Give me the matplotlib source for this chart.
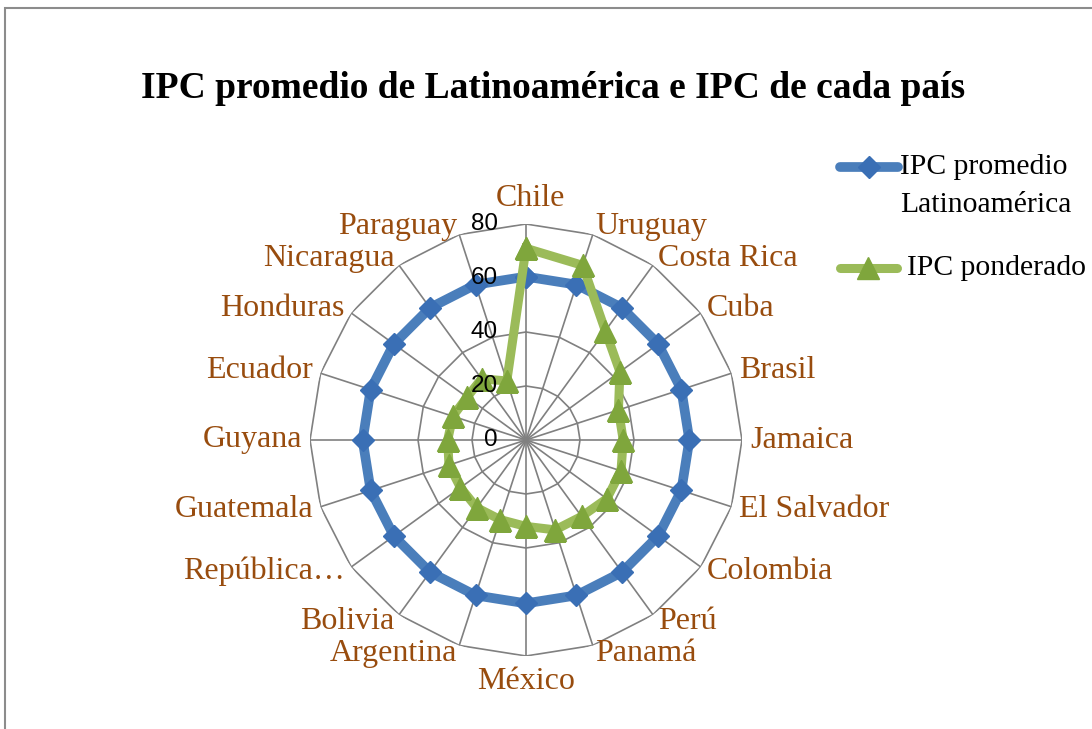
import numpy as np
import matplotlib
matplotlib.use("Agg")
import matplotlib.pyplot as plt
from matplotlib.lines import Line2D
from matplotlib.patches import Rectangle

# data
paises = ['Chile', 'Uruguay', 'Costa Rica', 'Cuba', 'Brasil', 'Jamaica',
          'El Salvador', 'Colombia', 'Perú', 'Panamá', 'México', 'Argentina',
          'Bolivia', 'República…', 'Guatemala', 'Guyana', 'Ecuador',
          'Honduras', 'Nicaragua', 'Paraguay']
ipc_promedio = [60.5, 60.5, 60.5, 60.5, 60.5, 60.5, 60.5, 60.5, 60.5, 60.5,
                60.5, 60.5, 60.5, 60.5, 60.5, 60.5, 60.5, 60.5, 60.5, 60.5]
ipc_ponderado = [71, 68, 50, 43, 36, 36, 37, 37, 35, 35,
                 32, 31, 31, 30, 30, 29, 28.5, 27, 28, 23]
ticks = [0, 20, 40, 60, 80]

W, H = 1092, 729
BLUE, BLUE_M = "#4A7EBB", "#3A6FB5"
GREEN, GREEN_M = "#9BBB59", "#7FA63C"
BROWN = "#984C0E"
GRID = "#808080"

fig = plt.figure(figsize=(W / 100, H / 100), dpi=100)

# gray frame (cut at right / bottom like the screenshot)
fig.patches.append(Rectangle((5 / W, -0.05), 1.2, 1 - 8 / H + 0.05,
                             transform=fig.transFigure, fill=False,
                             edgecolor="#8C8C8C", lw=1.5))

cx, cy, R = 526, 440, 216
ax = fig.add_axes([(cx - R) / W, (H - cy - R) / H, 2 * R / W, 2 * R / H],
                  projection="polar")
ax.set_theta_zero_location("N")
ax.set_theta_direction(-1)
ax.set_ylim(0, 80)
ax.grid(False)
ax.spines["polar"].set_visible(False)
ax.set_xticks([])
ax.set_yticks([])
ax.patch.set_alpha(0)

n = len(paises)
theta = np.linspace(0, 2 * np.pi, n, endpoint=False)
theta_c = np.append(theta, theta[0])

# polygon grid
for t in ticks[1:]:
    ax.plot(theta_c, [t] * (n + 1), color=GRID, lw=1.2, zorder=1)
for th in theta:
    ax.plot([th, th], [0, 80], color=GRID, lw=1.2, zorder=1)

# series
ax.plot(theta_c, ipc_promedio + ipc_promedio[:1], color=BLUE, lw=7,
        marker="D", ms=11, mfc=BLUE_M, mec=BLUE_M, zorder=3,
        solid_joinstyle="round")
ax.plot(theta_c, ipc_ponderado + ipc_ponderado[:1], color=GREEN, lw=6.5,
        marker="^", ms=16, mfc=GREEN_M, mec=GREEN_M, zorder=4,
        solid_joinstyle="round")

# radial tick labels
for t in ticks:
    ax.annotate(str(t), xy=(0, t), xytext=(-28, 0), textcoords="offset pixels",
                ha="right", va="center", fontsize=17.5, color="black",
                family="Liberation Sans", zorder=5)

# category labels
for th, name in zip(theta, paises):
    s, c = np.sin(th), np.cos(th)
    if abs(s) < 1e-6:
        ha = "center"
        va = "bottom" if c > 0 else "top"
        off = (4 if c > 0 else 0, 11 * np.sign(c))
    else:
        ha = "left" if s > 0 else "right"
        va = "center"
        off = (8 * s, 8 * c)
    ax.annotate(name, xy=(th, 80), xytext=off, textcoords="offset pixels",
                ha=ha, va=va, fontsize=23, color=BROWN,
                family="Liberation Serif", annotation_clip=False)

# title
fig.text(553 / W, 1 - 88 / H, "IPC promedio de Latinoamérica e IPC de cada país",
         ha="center", va="center", fontsize=27, fontweight="bold",
         family="Liberation Serif")

# legend drawn by hand
fig.lines.append(Line2D([840 / W, 898 / W], [1 - 167 / H] * 2,
                        transform=fig.transFigure, color=BLUE, lw=7,
                        solid_capstyle="round"))
fig.lines.append(Line2D([869 / W], [1 - 167 / H], transform=fig.transFigure,
                        marker="D", ms=11, mfc=BLUE_M, mec=BLUE_M, ls="none"))
fig.text(900 / W, 1 - 167 / H, "IPC promedio", ha="left", va="center",
         fontsize=21.3, family="Liberation Serif")
fig.text(900 / W, 1 - 205 / H, "Latinoamérica", ha="left", va="center",
         fontsize=21.3, family="Liberation Serif")
fig.lines.append(Line2D([840 / W, 897 / W], [1 - 268 / H] * 2,
                        transform=fig.transFigure, color=GREEN, lw=6.5,
                        solid_capstyle="round"))
fig.lines.append(Line2D([868 / W], [1 - 268 / H], transform=fig.transFigure,
                        marker="^", ms=16, mfc=GREEN_M, mec=GREEN_M, ls="none"))
fig.text(907 / W, 1 - 268 / H, "IPC ponderado", ha="left", va="center",
         fontsize=21.3, family="Liberation Serif")

fig.savefig("out.png", dpi=100)
